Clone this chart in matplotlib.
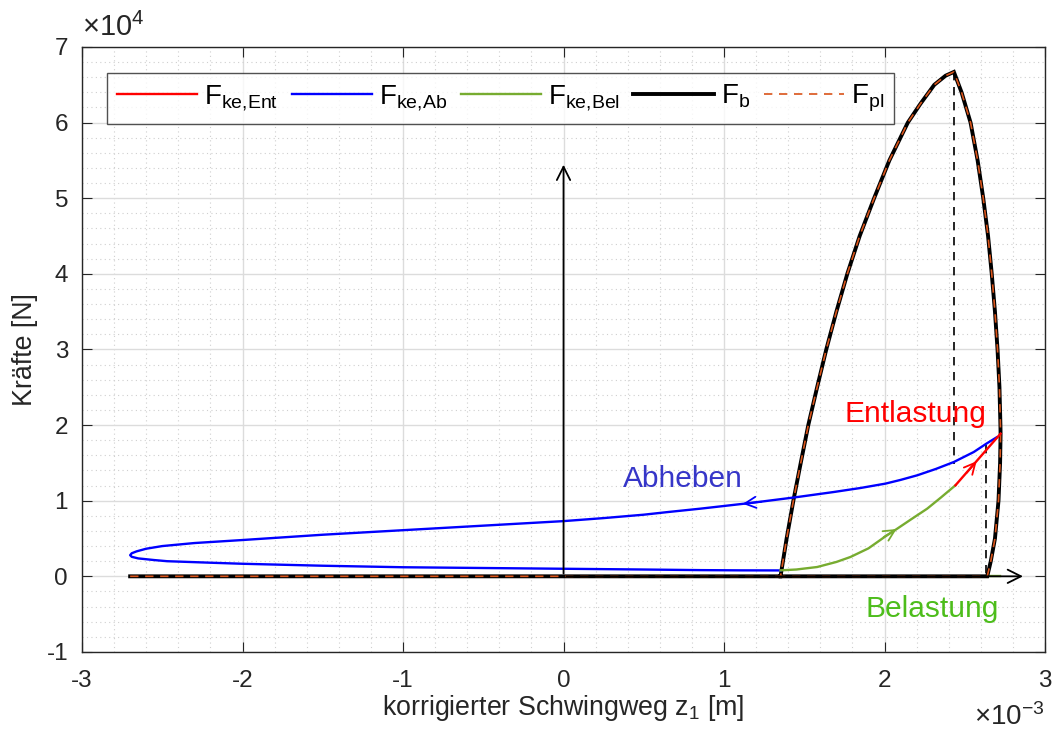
import numpy as np
import matplotlib
matplotlib.use("Agg")
import matplotlib.pyplot as plt
from matplotlib.ticker import MultipleLocator

plt.rcParams['font.family'] = ['Liberation Sans', 'DejaVu Sans']
plt.rcParams['mathtext.fontset'] = 'custom'
plt.rcParams['mathtext.rm'] = 'Liberation Sans'
plt.rcParams['mathtext.it'] = 'Liberation Sans:italic'

# z in 1e-3 m, forces in 1e4 N
# F_b / F_pl : baseline + lens (left branch up, right branch down, back along 0)
fb_z = [-2.70, 1.352, 1.39, 1.432, 1.478, 1.525, 1.58, 1.637, 1.70, 1.768, 1.845,
        1.935, 2.03, 2.145, 2.224, 2.31, 2.38, 2.432,
        2.48, 2.536, 2.58, 2.615, 2.645, 2.668, 2.688, 2.704, 2.716, 2.722, 2.723,
        2.72, 2.71, 2.688, 2.662, 2.64, 1.352]
fb_F = [0.0, 0.0, 0.5, 1.0, 1.5, 2.0, 2.5, 3.0, 3.5, 4.0, 4.5,
        5.0, 5.5, 6.0, 6.25, 6.5, 6.62, 6.67,
        6.4, 6.0, 5.5, 5.0, 4.5, 4.0, 3.5, 3.0, 2.5, 2.0, 1.887,
        1.5, 1.0, 0.5, 0.2, 0.0, 0.0]

# F_ke,Ab (lift-off): from the right end, around the tip, back to the lens
ab_z = [2.70, 2.635, 2.556, 2.432, 2.32, 2.204, 2.10, 2.006, 1.85, 1.684, 1.445,
        1.165, 0.854, 0.65, 0.5, 0.25, 0.0, -0.5, -1.0, -1.5, -2.0, -2.3, -2.5, -2.6, -2.66,
        -2.69, -2.70, -2.69, -2.65, -2.55, -2.47, -2.2, -2.0, -1.5,
        -1.0, -0.5, 0.0, 0.5, 0.854, 1.1, 1.352]
ab_F = [1.84, 1.755, 1.644, 1.512, 1.42, 1.336, 1.275, 1.226, 1.168, 1.115, 1.045,
        0.97, 0.895, 0.85, 0.815, 0.77, 0.73, 0.67, 0.61, 0.55, 0.48, 0.44, 0.40, 0.365, 0.33,
        0.305, 0.28, 0.258, 0.237, 0.215, 0.20, 0.18, 0.166, 0.14,
        0.12, 0.11, 0.10, 0.09, 0.082, 0.079, 0.078]

# F_ke,Bel (loading)
bel_z = [1.352, 1.45, 1.58, 1.70, 1.788, 1.90, 2.0, 2.079, 2.17, 2.266, 2.35, 2.442]
bel_F = [0.079, 0.09, 0.123, 0.19, 0.256, 0.37, 0.52, 0.63, 0.76, 0.895, 1.04, 1.204]

# F_ke,Ent (unloading)
ent_z = [2.442, 2.723]
ent_F = [1.204, 1.887]

xticks = [-3, -2, -1, 0, 1, 2, 3]
yticks = [-1, 0, 1, 2, 3, 4, 5, 6, 7]

c_red = '#ff0000'
c_blue = '#0000ff'
c_green = '#77ac30'
c_orange = '#d95319'
c_ax = '#262626'

fig = plt.figure(figsize=(10.54, 7.40), dpi=100)
ax = fig.add_axes([0.0778, 0.119, 0.9137, 0.8175])

ax.plot(ent_z, ent_F, color=c_red, lw=1.7, label=r'F$_{\mathrm{ke{,}Ent}}$', zorder=5)
ax.plot(ab_z, ab_F, color=c_blue, lw=1.7, label=r'F$_{\mathrm{ke{,}Ab}}$', zorder=4)
ax.plot(bel_z, bel_F, color=c_green, lw=1.7, label=r'F$_{\mathrm{ke{,}Bel}}$', zorder=4)
ax.plot([2.64, 2.72], [0, 0], color=c_green, lw=1.7, zorder=2.5)
ax.plot(fb_z, fb_F, color='black', lw=2.8, label=r'F$_{\mathrm{b}}$', zorder=3,
        solid_joinstyle='miter')
ax.plot(fb_z, fb_F, color=c_orange, lw=1.2, ls=(0, (5, 4)), label=r'F$_{\mathrm{pl}}$', zorder=3.5)

# dashed helper lines
ax.plot([2.435, 2.435], [6.67, 1.49], color='black', lw=1.2, ls=(0, (5, 4)), zorder=2)
ax.plot([2.635, 2.635], [1.74, 0.0], color='black', lw=1.2, ls=(0, (5, 4)), zorder=2)

# coordinate arrows
ax.annotate('', xy=(2.88, 0), xytext=(0, 0),
            arrowprops=dict(arrowstyle='->', color='black', lw=1.3, mutation_scale=24), zorder=6)
ax.annotate('', xy=(0, 5.48), xytext=(0, 0),
            arrowprops=dict(arrowstyle='->', color='black', lw=1.3, mutation_scale=24), zorder=6)

# direction arrows on the curves
ax.annotate('', xy=(1.10, 0.955), xytext=(1.25, 0.99),
            arrowprops=dict(arrowstyle='->', color=c_blue, lw=1.3, mutation_scale=20))
ax.annotate('', xy=(2.09, 0.645), xytext=(1.98, 0.50),
            arrowprops=dict(arrowstyle='->', color=c_green, lw=1.3, mutation_scale=20))
ax.annotate('', xy=(2.585, 1.55), xytext=(2.50, 1.34),
            arrowprops=dict(arrowstyle='->', color=c_red, lw=1.3, mutation_scale=20))

ax.text(2.19, 2.04, 'Entlastung', color=c_red, fontsize=21.5, ha='center', va='baseline')
ax.text(0.743, 1.18, 'Abheben', color='#3636c8', fontsize=21.5, ha='center', va='baseline')
ax.text(2.30, -0.54, 'Belastung', color='#4dbd1b', fontsize=21.5, ha='center', va='baseline')

ax.set_xlim(-3, 3)
ax.set_ylim(-1, 7)
ax.set_xticks(xticks)
ax.set_yticks(yticks)
ax.set_xticklabels([str(t) for t in xticks])
ax.set_yticklabels([str(t) for t in yticks])
ax.xaxis.set_minor_locator(MultipleLocator(0.2))
ax.yaxis.set_minor_locator(MultipleLocator(0.2))
ax.grid(which='major', color='#dcdcdc', lw=1.0)
ax.grid(which='minor', color='#cfcfcf', lw=0.8, ls=(0, (1, 3)))
ax.set_axisbelow(True)
ax.tick_params(which='both', direction='in', top=True, right=True, colors=c_ax, labelsize=17.5)
ax.tick_params(which='major', length=7)
ax.tick_params(which='minor', length=0)
ax.tick_params(axis='x', pad=13)
ax.tick_params(axis='y', pad=10)
for s in ax.spines.values():
    s.set_color(c_ax)
    s.set_linewidth(1.0)

ax.set_xlabel(r'korrigierter Schwingweg z$_{\mathrm{1}}$ [m]', fontsize=19.3, color=c_ax, labelpad=1)
ax.set_ylabel('Kräfte [N]', fontsize=19.3, color=c_ax, labelpad=6)

ax.text(0.0, 1.008, r'$\times$10$^{\mathrm{4}}$', transform=ax.transAxes, fontsize=21,
        color=c_ax, ha='left', va='bottom')
ax.text(1.0, -0.085, r'$\times$10$^{\mathrm{-3}}$', transform=ax.transAxes, fontsize=20,
        color=c_ax, ha='right', va='top')

leg = ax.legend(loc='upper left', bbox_to_anchor=(0.026, 0.957), ncol=5, fontsize=20,
                handlelength=2.9, columnspacing=0.48, handletextpad=0.25,
                frameon=True, fancybox=False, borderaxespad=0, borderpad=0.35)
leg.get_frame().set_edgecolor(c_ax)
leg.get_frame().set_linewidth(1.0)

fig.savefig('out.png', dpi=100)
